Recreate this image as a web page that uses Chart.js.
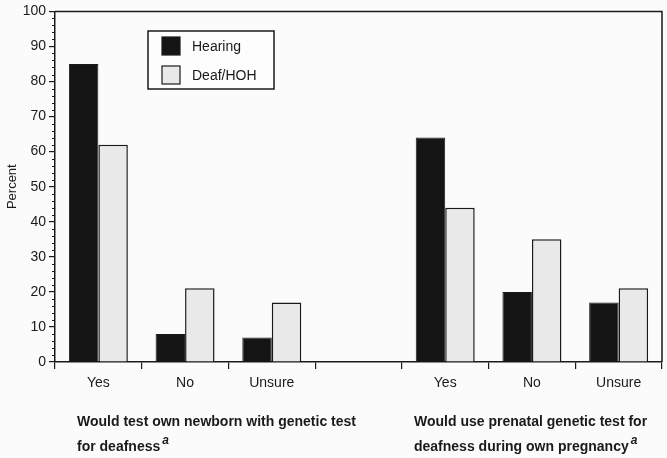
<!DOCTYPE html>
<html>
<head>
<meta charset="utf-8">
<script src="https://cdn.jsdelivr.net/npm/chart.js@4"></script>
<style>
html,body{margin:0;padding:0;background:#fbfbfb;}
#wrap{width:667px;height:458px;position:relative;}
</style>
</head>
<body>
<div id="wrap"><canvas id="c" width="667" height="458"></canvas></div>
<script>
const categories = ["Yes", "No", "Unsure", "", "Yes", "No", "Unsure"];
const hearing = [85, 8, 7, null, 64, 20, 17];
const deafHoh = [62, 21, 17, null, 44, 35, 21];
const seriesNames = ["Hearing", "Deaf/HOH"];
const yTicks = [0, 10, 20, 30, 40, 50, 60, 70, 80, 90, 100];
const groupTitles = [
  ["Would test own newborn with genetic test", "for deafness"],
  ["Would use prenatal genetic test for", "deafness during own pregnancy"]
];

const FONT = "'Liberation Sans', Arial, Helvetica, sans-serif";
const INK = "#1a1a1a";

const framePlugin = {
  id: 'frame',
  afterDraw(chart) {
    const ctx = chart.ctx, a = chart.chartArea, y = chart.scales.y;
    ctx.save();
    ctx.strokeStyle = INK;
    ctx.lineWidth = 1.5;
    ctx.beginPath();
    ctx.moveTo(a.left, a.top); ctx.lineTo(a.right, a.top); ctx.lineTo(a.right, a.bottom);
    ctx.stroke();
    // minor ticks
    ctx.lineWidth = 1;
    for (let v = 0; v <= 100; v += 2) {
      if (v % 10 === 0) continue;
      const py = Math.round(y.getPixelForValue(v)) + 0.5;
      ctx.beginPath(); ctx.moveTo(a.left - 3, py); ctx.lineTo(a.left, py); ctx.stroke();
    }
    // legend
    const lx = 148, ly = 31, lw = 126, lh = 58;
    ctx.fillStyle = '#fdfdfd';
    ctx.fillRect(lx, ly, lw, lh);
    ctx.lineWidth = 1.5;
    ctx.strokeStyle = INK;
    ctx.strokeRect(lx, ly, lw, lh);
    const ds = chart.data.datasets;
    const rows = [37, 66];
    ctx.font = "14px " + FONT;
    ctx.textBaseline = 'middle';
    rows.forEach((ry, i) => {
      ctx.fillStyle = ds[i].backgroundColor;
      ctx.fillRect(162, ry, 18, 18);
      ctx.lineWidth = 1.2;
      ctx.strokeStyle = INK;
      ctx.strokeRect(162, ry, 18, 18);
      ctx.fillStyle = INK;
      ctx.fillText(ds[i].label, 192, ry + 10);
    });
    // group titles
    ctx.textBaseline = 'middle';
    ctx.fillStyle = INK;
    const starts = [77, 414];
    groupTitles.forEach((lines, gi) => {
      const x0 = starts[gi];
      ctx.font = "bold 14px " + FONT;
      ctx.fillText(lines[0], x0, 422);
      ctx.fillText(lines[1], x0, 447);
      const w = ctx.measureText(lines[1]).width;
      ctx.font = "italic bold 12px " + FONT;
      ctx.fillText("a", x0 + w + 2, 441);
    });
    ctx.restore();
  }
};

new Chart(document.getElementById('c'), {
  type: 'bar',
  data: {
    labels: categories,
    datasets: [
      { label: seriesNames[0], data: hearing, backgroundColor: '#141414', borderColor: INK, borderWidth: 1 },
      { label: seriesNames[1], data: deafHoh, backgroundColor: '#e9e9e9', borderColor: INK, borderWidth: 1.5 }
    ]
  },
  options: {
    responsive: false,
    animation: false,
    layout: { padding: { top: 7, right: 5, left: 0, bottom: 0 } },
    plugins: { legend: { display: false }, tooltip: { enabled: false } },
    datasets: { bar: { categoryPercentage: 0.68, barPercentage: 1.0 } },
    scales: {
      x: {
        offset: true,
        grid: { offset: true, drawOnChartArea: false, tickLength: 7, color: INK, lineWidth: 1.2 },
        border: { display: true, color: INK, width: 1.5 },
        ticks: { color: INK, font: { family: FONT, size: 14 }, padding: 6, maxRotation: 0, autoSkip: false },
        afterFit(s) { s.height = 96; }
      },
      y: {
        min: 0, max: 100,
        afterBuildTicks(s) { s.ticks = yTicks.map(v => ({ value: v })); },
        grid: { drawOnChartArea: false, tickLength: 6, color: INK, lineWidth: 1.2 },
        border: { display: true, color: INK, width: 1.5 },
        ticks: { color: INK, font: { family: FONT, size: 14 }, padding: 3 },
        title: { display: true, text: 'Percent', color: INK, font: { family: FONT, size: 13 }, padding: { top: 5, bottom: 0 } },
        afterFit(s) { s.width = 55; }
      }
    }
  },
  plugins: [framePlugin]
});
</script>
</body>
</html>
